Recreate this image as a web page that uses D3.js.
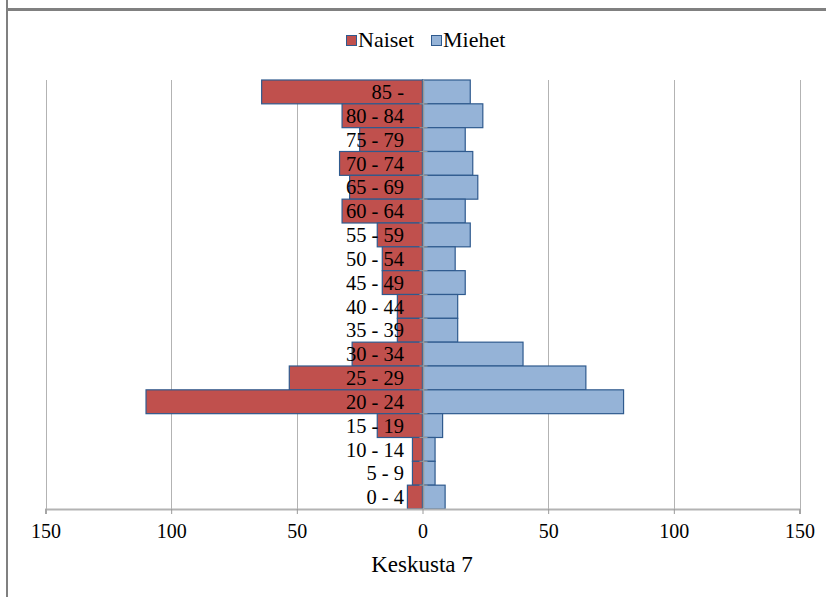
<!DOCTYPE html>
<html><head><meta charset="utf-8">
<script src="https://cdn.jsdelivr.net/npm/d3@7"></script>
<style>html,body{margin:0;padding:0;background:#fff;}svg{display:block;}</style>
</head><body>
<svg id="c" width="826" height="597"></svg>
<script>
const categories = ["85 -","80 - 84","75 - 79","70 - 74","65 - 69","60 - 64","55 - 59","50 - 54","45 - 49","40 - 44","35 - 39","30 - 34","25 - 29","20 - 24","15 - 19","10 - 14","5 - 9","0 - 4"];
const naiset = [64,32,25,33,29,32,18,16,16,10,10,28,53,110,18,4,4,6];
const miehet = [19,24,17,20,22,17,19,13,17,14,14,40,65,80,8,5,5,9];
const tickValues = [-150,-100,-50,0,50,100,150];
const seriesNames = ["Naiset","Miehet"];
const title = "Keskusta 7";

const svg = d3.select("#c");
const font = "'Liberation Serif','Times New Roman',serif";
const fill = {Naiset:"#C0504D", Miehet:"#95B3D7"};
const stroke = "#2F5A8E";

// frame
svg.append("rect").attr("x",6).attr("y",0).attr("width",2).attr("height",597).attr("fill","#808080");
svg.append("rect").attr("x",6).attr("y",8).attr("width",820).attr("height",3).attr("fill","#808080");

const x = d3.scaleLinear().domain([-150,150]).range([45.5,799.5]);
const y = d3.scaleBand().domain(categories).range([80,509]).paddingInner(0).paddingOuter(0);

// gridlines
svg.append("g").selectAll("line").data(tickValues.filter(v=>v!==0)).join("line")
  .attr("x1",d=>Math.round(x(d))+0.5).attr("x2",d=>Math.round(x(d))+0.5)
  .attr("y1",80).attr("y2",509).attr("stroke","#B3B3B3").attr("stroke-width",1);

// bars
svg.append("g").selectAll("rect").data(categories).join("rect")
  .attr("x",(d,i)=>x(-naiset[i])).attr("width",(d,i)=>x(0)-x(-naiset[i]))
  .attr("y",d=>y(d)).attr("height",y.bandwidth())
  .attr("fill",fill.Naiset).attr("stroke",stroke).attr("stroke-width",1.2);
svg.append("g").selectAll("rect").data(categories).join("rect")
  .attr("x",x(0)).attr("width",(d,i)=>x(miehet[i])-x(0))
  .attr("y",d=>y(d)).attr("height",y.bandwidth())
  .attr("fill",fill.Miehet).attr("stroke",stroke).attr("stroke-width",1.2);

// zero axis line with small ticks
const zx = Math.round(x(0))+0.5;
svg.append("line").attr("x1",zx).attr("x2",zx).attr("y1",80).attr("y2",509).attr("stroke","#999").attr("stroke-width",1.5);
svg.append("g").selectAll("line").data(categories.slice(1)).join("line")
  .attr("x1",zx-4).attr("x2",zx+4).attr("y1",d=>y(d)).attr("y2",d=>y(d)).attr("stroke","#999");

// category labels
svg.append("g").selectAll("text").data(categories).join("text")
  .attr("x",404).attr("y",d=>y(d)+y.bandwidth()/2).attr("dy","0.35em")
  .attr("text-anchor","end").attr("font-family",font).attr("font-size",20.5).attr("fill","#000")
  .text(d=>d);

// x axis
const ax = d3.axisBottom(x).tickValues(tickValues).tickSize(5).tickPadding(10).tickFormat(d=>Math.abs(d));
const g = svg.append("g").attr("transform","translate(0,509)").call(ax);
g.select(".domain").attr("stroke","#B3B3B3").attr("stroke-width",2);
g.selectAll(".tick line").attr("stroke","#999");
g.selectAll(".tick text").attr("font-family",font).attr("font-size",20).attr("fill","#000");

// title
svg.append("text").attr("x",422).attr("y",572).attr("text-anchor","middle")
  .attr("font-family",font).attr("font-size",23).text(title);

// legend
const lg = svg.append("g");
const legBox = [346, 431];
const legText = [358, 443];
seriesNames.forEach((n,i)=>{
  lg.append("rect").attr("x",legBox[i]+0.5).attr("y",35.5).attr("width",10).attr("height",10)
    .attr("fill",fill[n]).attr("stroke",stroke).attr("stroke-width",1);
  lg.append("text").attr("x",legText[i]).attr("y",47).attr("font-family",font).attr("font-size",22).text(n);
});
</script>
</body></html>
